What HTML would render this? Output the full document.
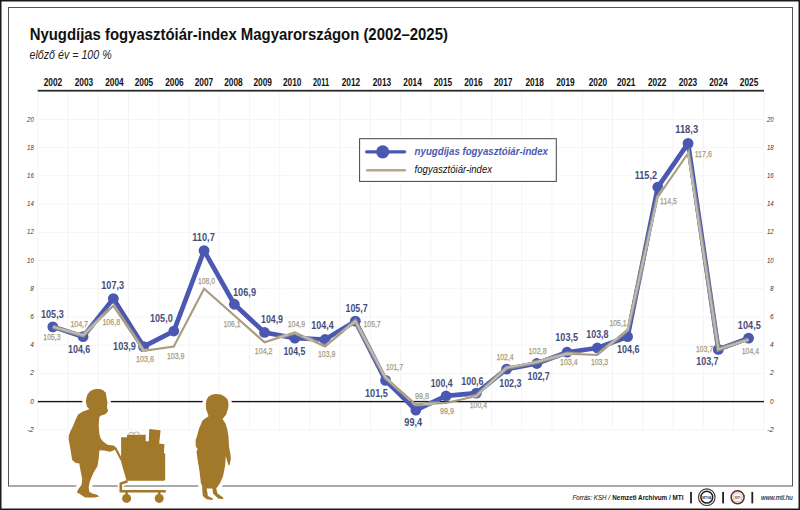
<!DOCTYPE html><html><head><meta charset="utf-8"><style>html,body{margin:0;padding:0;background:#fff}svg{display:block}text{font-family:"Liberation Sans",sans-serif}</style></head><body>
<svg width="800" height="510" viewBox="0 0 800 510">
<rect x="0" y="0" width="800" height="510" fill="#fff"/>
<rect x="0.75" y="0.75" width="798.5" height="508.5" fill="none" stroke="#1a1a1a" stroke-width="1.5"/>
<rect x="8.5" y="7.5" width="784" height="478.5" fill="none" stroke="#555" stroke-width="1"/>
<text x="29.7" y="39.6" font-size="16.8" font-weight="bold" fill="#111" textLength="418.2" lengthAdjust="spacingAndGlyphs">Nyugdíjas fogyasztóiár-index Magyarországon (2002–2025)</text>
<text x="29.5" y="59.3" font-size="12.3" font-style="italic" fill="#222" textLength="82.2" lengthAdjust="spacingAndGlyphs">előző év = 100 %</text>
<path d="M37.70 91.5V430 M67.95 91.5V430 M98.20 91.5V430 M128.45 91.5V430 M158.70 91.5V430 M188.95 91.5V430 M219.20 91.5V430 M249.45 91.5V430 M279.70 91.5V430 M309.95 91.5V430 M340.20 91.5V430 M370.45 91.5V430 M400.70 91.5V430 M430.95 91.5V430 M461.20 91.5V430 M491.45 91.5V430 M521.70 91.5V430 M551.95 91.5V430 M582.20 91.5V430 M612.45 91.5V430 M642.70 91.5V430 M672.95 91.5V430 M703.20 91.5V430 M733.45 91.5V430 M763.70 91.5V430 M37.70 429.82H763.70 M37.70 373.38H763.70 M37.70 345.16H763.70 M37.70 316.94H763.70 M37.70 288.72H763.70 M37.70 260.50H763.70 M37.70 232.28H763.70 M37.70 204.06H763.70 M37.70 175.84H763.70 M37.70 147.62H763.70 M37.70 119.40H763.70" stroke="#f4f4f4" stroke-width="1" fill="none"/>
<rect x="37.7" y="89.8" width="726.3" height="1.8" fill="#2a2a2a"/>
<text x="52.90" y="85.9" font-size="10" font-weight="bold" fill="#111" text-anchor="middle" textLength="18.5" lengthAdjust="spacingAndGlyphs">2002</text>
<text x="83.90" y="85.9" font-size="10" font-weight="bold" fill="#111" text-anchor="middle" textLength="18.5" lengthAdjust="spacingAndGlyphs">2003</text>
<text x="114.50" y="85.9" font-size="10" font-weight="bold" fill="#111" text-anchor="middle" textLength="18.5" lengthAdjust="spacingAndGlyphs">2004</text>
<text x="143.90" y="85.9" font-size="10" font-weight="bold" fill="#111" text-anchor="middle" textLength="18.5" lengthAdjust="spacingAndGlyphs">2005</text>
<text x="174.50" y="85.9" font-size="10" font-weight="bold" fill="#111" text-anchor="middle" textLength="18.5" lengthAdjust="spacingAndGlyphs">2006</text>
<text x="204.00" y="85.9" font-size="10" font-weight="bold" fill="#111" text-anchor="middle" textLength="18.5" lengthAdjust="spacingAndGlyphs">2007</text>
<text x="233.50" y="85.9" font-size="10" font-weight="bold" fill="#111" text-anchor="middle" textLength="18.5" lengthAdjust="spacingAndGlyphs">2008</text>
<text x="262.75" y="85.9" font-size="10" font-weight="bold" fill="#111" text-anchor="middle" textLength="18.5" lengthAdjust="spacingAndGlyphs">2009</text>
<text x="292.25" y="85.9" font-size="10" font-weight="bold" fill="#111" text-anchor="middle" textLength="18.5" lengthAdjust="spacingAndGlyphs">2010</text>
<text x="321.00" y="85.9" font-size="10" font-weight="bold" fill="#111" text-anchor="middle" textLength="16" lengthAdjust="spacingAndGlyphs">2011</text>
<text x="351.00" y="85.9" font-size="10" font-weight="bold" fill="#111" text-anchor="middle" textLength="18.5" lengthAdjust="spacingAndGlyphs">2012</text>
<text x="382.00" y="85.9" font-size="10" font-weight="bold" fill="#111" text-anchor="middle" textLength="18.5" lengthAdjust="spacingAndGlyphs">2013</text>
<text x="412.60" y="85.9" font-size="10" font-weight="bold" fill="#111" text-anchor="middle" textLength="18.5" lengthAdjust="spacingAndGlyphs">2014</text>
<text x="442.90" y="85.9" font-size="10" font-weight="bold" fill="#111" text-anchor="middle" textLength="18.5" lengthAdjust="spacingAndGlyphs">2015</text>
<text x="473.40" y="85.9" font-size="10" font-weight="bold" fill="#111" text-anchor="middle" textLength="18.5" lengthAdjust="spacingAndGlyphs">2016</text>
<text x="503.25" y="85.9" font-size="10" font-weight="bold" fill="#111" text-anchor="middle" textLength="18.5" lengthAdjust="spacingAndGlyphs">2017</text>
<text x="534.75" y="85.9" font-size="10" font-weight="bold" fill="#111" text-anchor="middle" textLength="18.5" lengthAdjust="spacingAndGlyphs">2018</text>
<text x="565.40" y="85.9" font-size="10" font-weight="bold" fill="#111" text-anchor="middle" textLength="18.5" lengthAdjust="spacingAndGlyphs">2019</text>
<text x="597.90" y="85.9" font-size="10" font-weight="bold" fill="#111" text-anchor="middle" textLength="18.5" lengthAdjust="spacingAndGlyphs">2020</text>
<text x="626.25" y="85.9" font-size="10" font-weight="bold" fill="#111" text-anchor="middle" textLength="18.5" lengthAdjust="spacingAndGlyphs">2021</text>
<text x="657.25" y="85.9" font-size="10" font-weight="bold" fill="#111" text-anchor="middle" textLength="18.5" lengthAdjust="spacingAndGlyphs">2022</text>
<text x="687.90" y="85.9" font-size="10" font-weight="bold" fill="#111" text-anchor="middle" textLength="18.5" lengthAdjust="spacingAndGlyphs">2023</text>
<text x="718.50" y="85.9" font-size="10" font-weight="bold" fill="#111" text-anchor="middle" textLength="18.5" lengthAdjust="spacingAndGlyphs">2024</text>
<text x="749.10" y="85.9" font-size="10" font-weight="bold" fill="#111" text-anchor="middle" textLength="18.5" lengthAdjust="spacingAndGlyphs">2025</text>
<text x="33.8" y="431.92" font-size="7.1" font-style="italic" fill="#333" text-anchor="end" textLength="6.7" lengthAdjust="spacingAndGlyphs">-2</text>
<text x="773.6" y="431.92" font-size="7.1" font-style="italic" fill="#333" text-anchor="end" textLength="6.7" lengthAdjust="spacingAndGlyphs">-2</text>
<text x="33.8" y="403.70" font-size="7.1" font-style="italic" fill="#333" text-anchor="end" textLength="3.6" lengthAdjust="spacingAndGlyphs">0</text>
<text x="773.6" y="403.70" font-size="7.1" font-style="italic" fill="#333" text-anchor="end" textLength="3.6" lengthAdjust="spacingAndGlyphs">0</text>
<text x="33.8" y="375.48" font-size="7.1" font-style="italic" fill="#333" text-anchor="end" textLength="3.6" lengthAdjust="spacingAndGlyphs">2</text>
<text x="773.6" y="375.48" font-size="7.1" font-style="italic" fill="#333" text-anchor="end" textLength="3.6" lengthAdjust="spacingAndGlyphs">2</text>
<text x="33.8" y="347.26" font-size="7.1" font-style="italic" fill="#333" text-anchor="end" textLength="3.6" lengthAdjust="spacingAndGlyphs">4</text>
<text x="773.6" y="347.26" font-size="7.1" font-style="italic" fill="#333" text-anchor="end" textLength="3.6" lengthAdjust="spacingAndGlyphs">4</text>
<text x="33.8" y="319.04" font-size="7.1" font-style="italic" fill="#333" text-anchor="end" textLength="3.6" lengthAdjust="spacingAndGlyphs">6</text>
<text x="773.6" y="319.04" font-size="7.1" font-style="italic" fill="#333" text-anchor="end" textLength="3.6" lengthAdjust="spacingAndGlyphs">6</text>
<text x="33.8" y="290.82" font-size="7.1" font-style="italic" fill="#333" text-anchor="end" textLength="3.6" lengthAdjust="spacingAndGlyphs">8</text>
<text x="773.6" y="290.82" font-size="7.1" font-style="italic" fill="#333" text-anchor="end" textLength="3.6" lengthAdjust="spacingAndGlyphs">8</text>
<text x="33.8" y="262.60" font-size="7.1" font-style="italic" fill="#333" text-anchor="end" textLength="6.7" lengthAdjust="spacingAndGlyphs">10</text>
<text x="773.6" y="262.60" font-size="7.1" font-style="italic" fill="#333" text-anchor="end" textLength="6.7" lengthAdjust="spacingAndGlyphs">10</text>
<text x="33.8" y="234.38" font-size="7.1" font-style="italic" fill="#333" text-anchor="end" textLength="6.7" lengthAdjust="spacingAndGlyphs">12</text>
<text x="773.6" y="234.38" font-size="7.1" font-style="italic" fill="#333" text-anchor="end" textLength="6.7" lengthAdjust="spacingAndGlyphs">12</text>
<text x="33.8" y="206.16" font-size="7.1" font-style="italic" fill="#333" text-anchor="end" textLength="6.7" lengthAdjust="spacingAndGlyphs">14</text>
<text x="773.6" y="206.16" font-size="7.1" font-style="italic" fill="#333" text-anchor="end" textLength="6.7" lengthAdjust="spacingAndGlyphs">14</text>
<text x="33.8" y="177.94" font-size="7.1" font-style="italic" fill="#333" text-anchor="end" textLength="6.7" lengthAdjust="spacingAndGlyphs">16</text>
<text x="773.6" y="177.94" font-size="7.1" font-style="italic" fill="#333" text-anchor="end" textLength="6.7" lengthAdjust="spacingAndGlyphs">16</text>
<text x="33.8" y="149.72" font-size="7.1" font-style="italic" fill="#333" text-anchor="end" textLength="6.7" lengthAdjust="spacingAndGlyphs">18</text>
<text x="773.6" y="149.72" font-size="7.1" font-style="italic" fill="#333" text-anchor="end" textLength="6.7" lengthAdjust="spacingAndGlyphs">18</text>
<text x="33.8" y="121.50" font-size="7.1" font-style="italic" fill="#333" text-anchor="end" textLength="6.7" lengthAdjust="spacingAndGlyphs">20</text>
<text x="773.6" y="121.50" font-size="7.1" font-style="italic" fill="#333" text-anchor="end" textLength="6.7" lengthAdjust="spacingAndGlyphs">20</text>
<rect x="37.7" y="400.9" width="726.3" height="1.4" fill="#1a1a1a"/>
<rect x="359.6" y="138.7" width="196.7" height="42.7" fill="#fff" stroke="#444" stroke-width="1"/>
<path d="M366.6 151.8H404.6" stroke="#4b58b2" stroke-width="3.2" stroke-linecap="round"/>
<circle cx="382.7" cy="151.8" r="6.6" fill="#4b58b2"/>
<path d="M367.3 170.2H404.9" stroke="#b6a78a" stroke-width="2.5" stroke-linecap="round"/>
<text x="414.6" y="154.6" font-size="11" font-weight="bold" font-style="italic" fill="#4b58b2" textLength="133.4" lengthAdjust="spacingAndGlyphs">nyugdíjas fogyasztóiár-index</text>
<text x="414.6" y="172.8" font-size="11" font-style="italic" fill="#111" textLength="77.4" lengthAdjust="spacingAndGlyphs">fogyasztóiár-index</text>
<polyline points="52.83,326.82 83.08,336.69 113.33,298.60 143.57,346.57 173.82,331.05 204.07,250.62 234.32,304.24 264.57,332.46 294.82,338.11 325.07,339.52 355.32,321.17 385.57,380.44 415.82,410.07 446.07,395.96 476.32,393.13 506.57,369.15 536.83,363.50 567.08,352.22 597.33,347.98 627.58,336.69 657.83,187.13 688.08,143.39 718.33,349.39 748.58,338.11" fill="none" stroke="#4b58b2" stroke-width="4.7" stroke-linejoin="round"/>
<circle cx="52.83" cy="326.82" r="5.4" fill="#4b58b2"/>
<circle cx="83.08" cy="336.69" r="5.4" fill="#4b58b2"/>
<circle cx="113.33" cy="298.60" r="5.4" fill="#4b58b2"/>
<circle cx="143.57" cy="346.57" r="5.4" fill="#4b58b2"/>
<circle cx="173.82" cy="331.05" r="5.4" fill="#4b58b2"/>
<circle cx="204.07" cy="250.62" r="5.4" fill="#4b58b2"/>
<circle cx="234.32" cy="304.24" r="5.4" fill="#4b58b2"/>
<circle cx="264.57" cy="332.46" r="5.4" fill="#4b58b2"/>
<circle cx="294.82" cy="338.11" r="5.4" fill="#4b58b2"/>
<circle cx="325.07" cy="339.52" r="5.4" fill="#4b58b2"/>
<circle cx="355.32" cy="321.17" r="5.4" fill="#4b58b2"/>
<circle cx="385.57" cy="380.44" r="5.4" fill="#4b58b2"/>
<circle cx="415.82" cy="410.07" r="5.4" fill="#4b58b2"/>
<circle cx="446.07" cy="395.96" r="5.4" fill="#4b58b2"/>
<circle cx="476.32" cy="393.13" r="5.4" fill="#4b58b2"/>
<circle cx="506.57" cy="369.15" r="5.4" fill="#4b58b2"/>
<circle cx="536.83" cy="363.50" r="5.4" fill="#4b58b2"/>
<circle cx="567.08" cy="352.22" r="5.4" fill="#4b58b2"/>
<circle cx="597.33" cy="347.98" r="5.4" fill="#4b58b2"/>
<circle cx="627.58" cy="336.69" r="5.4" fill="#4b58b2"/>
<circle cx="657.83" cy="187.13" r="5.4" fill="#4b58b2"/>
<circle cx="688.08" cy="143.39" r="5.4" fill="#4b58b2"/>
<circle cx="718.33" cy="349.39" r="5.4" fill="#4b58b2"/>
<circle cx="748.58" cy="338.11" r="5.4" fill="#4b58b2"/>
<mask id="bm" maskUnits="userSpaceOnUse" x="0" y="0" width="800" height="510"><rect width="800" height="510" fill="#000"/><polyline points="52.83,326.82 83.08,336.69 113.33,298.60 143.57,346.57 173.82,331.05 204.07,250.62 234.32,304.24 264.57,332.46 294.82,338.11 325.07,339.52 355.32,321.17 385.57,380.44 415.82,410.07 446.07,395.96 476.32,393.13 506.57,369.15 536.83,363.50 567.08,352.22 597.33,347.98 627.58,336.69 657.83,187.13 688.08,143.39 718.33,349.39 748.58,338.11" fill="none" stroke="#fff" stroke-width="4.7" stroke-linejoin="round"/>
<circle cx="52.83" cy="326.82" r="5.4" fill="#fff"/>
<circle cx="83.08" cy="336.69" r="5.4" fill="#fff"/>
<circle cx="113.33" cy="298.60" r="5.4" fill="#fff"/>
<circle cx="143.57" cy="346.57" r="5.4" fill="#fff"/>
<circle cx="173.82" cy="331.05" r="5.4" fill="#fff"/>
<circle cx="204.07" cy="250.62" r="5.4" fill="#fff"/>
<circle cx="234.32" cy="304.24" r="5.4" fill="#fff"/>
<circle cx="264.57" cy="332.46" r="5.4" fill="#fff"/>
<circle cx="294.82" cy="338.11" r="5.4" fill="#fff"/>
<circle cx="325.07" cy="339.52" r="5.4" fill="#fff"/>
<circle cx="355.32" cy="321.17" r="5.4" fill="#fff"/>
<circle cx="385.57" cy="380.44" r="5.4" fill="#fff"/>
<circle cx="415.82" cy="410.07" r="5.4" fill="#fff"/>
<circle cx="446.07" cy="395.96" r="5.4" fill="#fff"/>
<circle cx="476.32" cy="393.13" r="5.4" fill="#fff"/>
<circle cx="506.57" cy="369.15" r="5.4" fill="#fff"/>
<circle cx="536.83" cy="363.50" r="5.4" fill="#fff"/>
<circle cx="567.08" cy="352.22" r="5.4" fill="#fff"/>
<circle cx="597.33" cy="347.98" r="5.4" fill="#fff"/>
<circle cx="627.58" cy="336.69" r="5.4" fill="#fff"/>
<circle cx="657.83" cy="187.13" r="5.4" fill="#fff"/>
<circle cx="688.08" cy="143.39" r="5.4" fill="#fff"/>
<circle cx="718.33" cy="349.39" r="5.4" fill="#fff"/>
<circle cx="748.58" cy="338.11" r="5.4" fill="#fff"/>
</mask>
<polyline points="52.83,326.82 83.08,335.28 113.33,305.65 143.57,350.80 173.82,346.57 204.07,288.72 234.32,315.53 264.57,342.34 294.82,332.46 325.07,346.57 355.32,321.17 385.57,377.61 415.82,404.42 446.07,403.01 476.32,395.96 506.57,367.74 536.83,362.09 567.08,353.63 597.33,355.04 627.58,329.64 657.83,197.01 688.08,153.26 718.33,349.39 748.58,339.52" fill="none" stroke="#a99b7f" stroke-width="2.1" stroke-linejoin="miter"/>
<g mask="url(#bm)"><polyline points="52.83,326.82 83.08,335.28 113.33,305.65 143.57,350.80 173.82,346.57 204.07,288.72 234.32,315.53 264.57,342.34 294.82,332.46 325.07,346.57 355.32,321.17 385.57,377.61 415.82,404.42 446.07,403.01 476.32,395.96 506.57,367.74 536.83,362.09 567.08,353.63 597.33,355.04 627.58,329.64 657.83,197.01 688.08,153.26 718.33,349.39 748.58,339.52" fill="none" stroke="#8f8e88" stroke-width="4.3" stroke-linejoin="miter"/>
<polyline points="52.83,326.82 83.08,335.28 113.33,305.65 143.57,350.80 173.82,346.57 204.07,288.72 234.32,315.53 264.57,342.34 294.82,332.46 325.07,346.57 355.32,321.17 385.57,377.61 415.82,404.42 446.07,403.01 476.32,395.96 506.57,367.74 536.83,362.09 567.08,353.63 597.33,355.04 627.58,329.64 657.83,197.01 688.08,153.26 718.33,349.39 748.58,339.52" fill="none" stroke="#bdbbb2" stroke-width="2.1" stroke-linejoin="miter"/></g>
<text x="41.00" y="318.10" font-size="11.7" font-weight="bold" fill="#464d7a" textLength="22.70" lengthAdjust="spacingAndGlyphs">105,3</text>
<text x="43.30" y="340.30" font-size="8.4" fill="#a89e80" stroke="#a89e80" stroke-width="0.25" textLength="17.30" lengthAdjust="spacingAndGlyphs">105,3</text>
<text x="68.00" y="352.80" font-size="11.7" font-weight="bold" fill="#464d7a" textLength="22.30" lengthAdjust="spacingAndGlyphs">104,6</text>
<text x="70.40" y="326.70" font-size="8.4" fill="#a89e80" stroke="#a89e80" stroke-width="0.25" textLength="17.60" lengthAdjust="spacingAndGlyphs">104,7</text>
<text x="101.30" y="289.10" font-size="11.7" font-weight="bold" fill="#464d7a" textLength="22.70" lengthAdjust="spacingAndGlyphs">107,3</text>
<text x="102.40" y="325.10" font-size="8.4" fill="#a89e80" stroke="#a89e80" stroke-width="0.25" textLength="17.70" lengthAdjust="spacingAndGlyphs">106,8</text>
<text x="113.10" y="349.70" font-size="11.7" font-weight="bold" fill="#464d7a" textLength="22.80" lengthAdjust="spacingAndGlyphs">103,9</text>
<text x="135.90" y="361.80" font-size="8.4" fill="#a89e80" stroke="#a89e80" stroke-width="0.25" textLength="18.00" lengthAdjust="spacingAndGlyphs">103,6</text>
<text x="150.00" y="321.50" font-size="11.7" font-weight="bold" fill="#464d7a" textLength="22.70" lengthAdjust="spacingAndGlyphs">105,0</text>
<text x="166.90" y="358.80" font-size="8.4" fill="#a89e80" stroke="#a89e80" stroke-width="0.25" textLength="17.50" lengthAdjust="spacingAndGlyphs">103,9</text>
<text x="192.25" y="240.90" font-size="11.7" font-weight="bold" fill="#464d7a" textLength="22.50" lengthAdjust="spacingAndGlyphs">110,7</text>
<text x="198.00" y="283.70" font-size="8.4" fill="#a89e80" stroke="#a89e80" stroke-width="0.25" textLength="17.00" lengthAdjust="spacingAndGlyphs">108,0</text>
<text x="233.00" y="296.30" font-size="11.7" font-weight="bold" fill="#464d7a" textLength="23.00" lengthAdjust="spacingAndGlyphs">106,9</text>
<text x="223.40" y="326.90" font-size="8.4" fill="#a89e80" stroke="#a89e80" stroke-width="0.25" textLength="17.30" lengthAdjust="spacingAndGlyphs">106,1</text>
<text x="261.00" y="322.70" font-size="11.7" font-weight="bold" fill="#464d7a" textLength="22.00" lengthAdjust="spacingAndGlyphs">104,9</text>
<text x="254.80" y="353.60" font-size="8.4" fill="#a89e80" stroke="#a89e80" stroke-width="0.25" textLength="17.70" lengthAdjust="spacingAndGlyphs">104,2</text>
<text x="283.50" y="355.10" font-size="11.7" font-weight="bold" fill="#464d7a" textLength="21.90" lengthAdjust="spacingAndGlyphs">104,5</text>
<text x="287.70" y="327.30" font-size="8.4" fill="#a89e80" stroke="#a89e80" stroke-width="0.25" textLength="17.30" lengthAdjust="spacingAndGlyphs">104,9</text>
<text x="311.30" y="329.40" font-size="11.7" font-weight="bold" fill="#464d7a" textLength="22.40" lengthAdjust="spacingAndGlyphs">104,4</text>
<text x="318.00" y="357.20" font-size="8.4" fill="#a89e80" stroke="#a89e80" stroke-width="0.25" textLength="17.30" lengthAdjust="spacingAndGlyphs">103,9</text>
<text x="345.50" y="311.70" font-size="11.7" font-weight="bold" fill="#464d7a" textLength="22.20" lengthAdjust="spacingAndGlyphs">105,7</text>
<text x="363.50" y="327.40" font-size="8.4" fill="#a89e80" stroke="#a89e80" stroke-width="0.25" textLength="17.20" lengthAdjust="spacingAndGlyphs">105,7</text>
<text x="365.00" y="396.50" font-size="11.7" font-weight="bold" fill="#464d7a" textLength="22.90" lengthAdjust="spacingAndGlyphs">101,5</text>
<text x="385.90" y="370.20" font-size="8.4" fill="#a89e80" stroke="#a89e80" stroke-width="0.25" textLength="17.20" lengthAdjust="spacingAndGlyphs">101,7</text>
<text x="404.30" y="425.70" font-size="11.7" font-weight="bold" fill="#464d7a" textLength="17.80" lengthAdjust="spacingAndGlyphs">99,4</text>
<text x="414.90" y="399.20" font-size="8.4" fill="#a89e80" stroke="#a89e80" stroke-width="0.25" textLength="14.10" lengthAdjust="spacingAndGlyphs">99,8</text>
<text x="430.80" y="387.30" font-size="11.7" font-weight="bold" fill="#464d7a" textLength="21.70" lengthAdjust="spacingAndGlyphs">100,4</text>
<text x="440.00" y="414.10" font-size="8.4" fill="#a89e80" stroke="#a89e80" stroke-width="0.25" textLength="14.00" lengthAdjust="spacingAndGlyphs">99,9</text>
<text x="461.20" y="384.90" font-size="11.7" font-weight="bold" fill="#464d7a" textLength="22.40" lengthAdjust="spacingAndGlyphs">100,6</text>
<text x="469.80" y="408.00" font-size="8.4" fill="#a89e80" stroke="#a89e80" stroke-width="0.25" textLength="17.20" lengthAdjust="spacingAndGlyphs">100,4</text>
<text x="499.20" y="386.50" font-size="11.7" font-weight="bold" fill="#464d7a" textLength="22.30" lengthAdjust="spacingAndGlyphs">102,3</text>
<text x="496.40" y="360.20" font-size="8.4" fill="#a89e80" stroke="#a89e80" stroke-width="0.25" textLength="17.30" lengthAdjust="spacingAndGlyphs">102,4</text>
<text x="527.50" y="380.00" font-size="11.7" font-weight="bold" fill="#464d7a" textLength="22.30" lengthAdjust="spacingAndGlyphs">102,7</text>
<text x="528.60" y="353.70" font-size="8.4" fill="#a89e80" stroke="#a89e80" stroke-width="0.25" textLength="18.10" lengthAdjust="spacingAndGlyphs">102,8</text>
<text x="555.30" y="341.10" font-size="11.7" font-weight="bold" fill="#464d7a" textLength="22.70" lengthAdjust="spacingAndGlyphs">103,5</text>
<text x="560.00" y="365.20" font-size="8.4" fill="#a89e80" stroke="#a89e80" stroke-width="0.25" textLength="17.70" lengthAdjust="spacingAndGlyphs">103,4</text>
<text x="586.20" y="338.00" font-size="11.7" font-weight="bold" fill="#464d7a" textLength="22.40" lengthAdjust="spacingAndGlyphs">103,8</text>
<text x="590.90" y="365.20" font-size="8.4" fill="#a89e80" stroke="#a89e80" stroke-width="0.25" textLength="17.30" lengthAdjust="spacingAndGlyphs">103,3</text>
<text x="616.90" y="353.20" font-size="11.7" font-weight="bold" fill="#464d7a" textLength="22.60" lengthAdjust="spacingAndGlyphs">104,6</text>
<text x="609.40" y="326.00" font-size="8.4" fill="#a89e80" stroke="#a89e80" stroke-width="0.25" textLength="17.30" lengthAdjust="spacingAndGlyphs">105,1</text>
<text x="634.70" y="178.50" font-size="11.7" font-weight="bold" fill="#464d7a" textLength="22.30" lengthAdjust="spacingAndGlyphs">115,2</text>
<text x="660.10" y="204.00" font-size="8.4" fill="#a89e80" stroke="#a89e80" stroke-width="0.25" textLength="16.90" lengthAdjust="spacingAndGlyphs">114,5</text>
<text x="675.20" y="133.30" font-size="11.7" font-weight="bold" fill="#464d7a" textLength="23.00" lengthAdjust="spacingAndGlyphs">118,3</text>
<text x="694.70" y="157.20" font-size="8.4" fill="#a89e80" stroke="#a89e80" stroke-width="0.25" textLength="17.20" lengthAdjust="spacingAndGlyphs">117,6</text>
<text x="696.30" y="365.00" font-size="11.7" font-weight="bold" fill="#464d7a" textLength="22.20" lengthAdjust="spacingAndGlyphs">103,7</text>
<text x="696.00" y="351.50" font-size="8.4" fill="#a89e80" stroke="#a89e80" stroke-width="0.25" textLength="17.20" lengthAdjust="spacingAndGlyphs">103,7</text>
<text x="737.80" y="328.50" font-size="11.7" font-weight="bold" fill="#464d7a" textLength="23.00" lengthAdjust="spacingAndGlyphs">104,5</text>
<text x="741.70" y="353.60" font-size="8.4" fill="#a89e80" stroke="#a89e80" stroke-width="0.25" textLength="17.30" lengthAdjust="spacingAndGlyphs">104,4</text>
<text x="572.6" y="500" font-size="7.6" fill="#333" stroke="#333" stroke-width="0.15" font-style="italic" textLength="37.4" lengthAdjust="spacingAndGlyphs">Forrás: KSH /</text>
<text x="612.3" y="500" font-size="7.6" fill="#111" font-weight="bold" textLength="71.1" lengthAdjust="spacingAndGlyphs">Nemzeti Archivum / MTI</text>
<rect x="690.1" y="491.9" width="1.8" height="11.5" fill="#222"/>
<rect x="722.2" y="491.9" width="1.8" height="11.5" fill="#222"/>
<rect x="751.4" y="491.9" width="1.8" height="11.5" fill="#222"/>
<circle cx="706.8" cy="497.2" r="8.3" fill="#fff" stroke="#333" stroke-width="1.1"/>
<circle cx="706.8" cy="497.2" r="5.9" fill="#fff" stroke="#222" stroke-width="1.5"/>
<text x="706.8" y="498.5" font-size="3.3" font-weight="bold" fill="#333" text-anchor="middle">MTVA</text>
<circle cx="737.6" cy="497.3" r="6.5" fill="#fff" stroke="#5e2f28" stroke-width="1.5"/>
<circle cx="737.6" cy="497.3" r="4.5" fill="#fff" stroke="#d0a8a0" stroke-width="0.9"/>
<text x="737.6" y="498.6" font-size="3.4" font-weight="bold" fill="#7a4a40" text-anchor="middle">MTI</text>
<text x="760.9" y="499.8" font-size="7.5" font-style="italic" fill="#333" stroke="#333" stroke-width="0.2" textLength="31.9" lengthAdjust="spacingAndGlyphs">www.mti.hu</text>
<g stroke="#fff" stroke-width="3.5" stroke-linejoin="round" fill="#fff">
<path d="M95.8 388.9 L99.5 389.0 L102.8 389.9 L105.8 392.8 L106.6 398.1 L107.5 402.8 L106.9 406.9 L108.1 411.0 L106.5 413.3 L104.6 414.6 L101.6 415.2 L99.3 417.0 L98.7 425.2 L99.3 433.4 L100.5 438.1 L102.8 441.2 L107.5 444.7 L111.0 445.3 L113.5 445.4 L115.3 446.8 L115.8 448.2 L114.6 449.8 L113.4 450.6 L109.9 451.8 L104.0 450.6 L99.6 450.2 L99.3 451.8 L98.7 458.8 L97.5 465.9 L93.4 472.9 L89.9 481.2 L88.7 487.1 L89.3 491.8 L92.2 493.5 L96.5 494.6 L99.3 496.5 L94.6 497.6 L85.2 497.6 L82.8 495.9 L79.9 494.1 L76.9 492.4 L78.1 489.4 L81.6 484.7 L82.2 478.8 L80.5 470.6 L79.3 463.5 L75.8 462.9 L72.2 460.0 L70.5 449.4 L68.7 440.0 L68.7 435.8 L70.5 431.1 L73.4 425.2 L75.8 419.3 L78.1 414.6 L82.8 411.6 L89.3 409.3 L86.9 406.4 L85.8 401.6 L86.5 397.5 L87.5 394.6 L89.8 391.6 L92.2 389.9ZM215.6 394.0 L221.0 394.6 L225.0 396.8 L227.6 399.6 L228.5 403.5 L228.2 408.0 L226.2 414.4 L223.8 417.4 L222.6 419.1 L225.6 423.8 L227.4 429.7 L228.5 436.8 L229.0 446.4 L230.2 452.7 L230.9 459.1 L230.2 461.7 L229.6 465.5 L228.3 464.8 L227.0 460.4 L225.8 456.0 L225.1 465.5 L223.2 475.7 L220.0 483.3 L216.2 488.4 L217.5 493.5 L223.2 497.6 L223.2 499.2 L218.1 498.6 L213.0 493.5 L212.4 488.4 L206.7 488.4 L207.9 496.0 L213.0 498.4 L212.4 499.9 L206.7 499.2 L202.8 496.0 L202.2 488.4 L202.2 485.9 L200.9 483.3 L199.6 471.8 L197.7 460.4 L196.5 451.5 L197.7 448.9 L195.8 446.4 L195.6 440.0 L196.8 436.8 L199.1 428.5 L202.6 420.3 L208.5 416.2 L207.6 413.2 L206.0 409.0 L205.8 404.0 L206.5 400.0 L208.3 396.8 L211.5 394.8Z" stroke-width="7"/>
<path d="M121.1 437.2 L127.0 437.2 L127.0 434.8 L145.7 434.8 L145.7 441.2 L148.8 441.2 L149.2 429.0 L160.6 430.2 L159.2 443.5 L164.5 444.3 L163.9 453.0 L165.2 453.7 L165.2 479.5 L164.2 480.7 L126.6 480.7 L121.1 462.0Z"/>
<path d="M115.2 447.7L121 459" stroke-width="5.5"/>
<path d="M126.6 481.6L120.8 483.6V491.3H165.8" fill="none" stroke-width="6"/>
<circle cx="126.6" cy="498.4" r="6"/><circle cx="159.2" cy="498.4" r="6"/>
</g>
<g fill="#a2792a">
<path d="M95.8 388.9 L99.5 389.0 L102.8 389.9 L105.8 392.8 L106.6 398.1 L107.5 402.8 L106.9 406.9 L108.1 411.0 L106.5 413.3 L104.6 414.6 L101.6 415.2 L99.3 417.0 L98.7 425.2 L99.3 433.4 L100.5 438.1 L102.8 441.2 L107.5 444.7 L111.0 445.3 L113.5 445.4 L115.3 446.8 L115.8 448.2 L114.6 449.8 L113.4 450.6 L109.9 451.8 L104.0 450.6 L99.6 450.2 L99.3 451.8 L98.7 458.8 L97.5 465.9 L93.4 472.9 L89.9 481.2 L88.7 487.1 L89.3 491.8 L92.2 493.5 L96.5 494.6 L99.3 496.5 L94.6 497.6 L85.2 497.6 L82.8 495.9 L79.9 494.1 L76.9 492.4 L78.1 489.4 L81.6 484.7 L82.2 478.8 L80.5 470.6 L79.3 463.5 L75.8 462.9 L72.2 460.0 L70.5 449.4 L68.7 440.0 L68.7 435.8 L70.5 431.1 L73.4 425.2 L75.8 419.3 L78.1 414.6 L82.8 411.6 L89.3 409.3 L86.9 406.4 L85.8 401.6 L86.5 397.5 L87.5 394.6 L89.8 391.6 L92.2 389.9Z M215.6 394.0 L221.0 394.6 L225.0 396.8 L227.6 399.6 L228.5 403.5 L228.2 408.0 L226.2 414.4 L223.8 417.4 L222.6 419.1 L225.6 423.8 L227.4 429.7 L228.5 436.8 L229.0 446.4 L230.2 452.7 L230.9 459.1 L230.2 461.7 L229.6 465.5 L228.3 464.8 L227.0 460.4 L225.8 456.0 L225.1 465.5 L223.2 475.7 L220.0 483.3 L216.2 488.4 L217.5 493.5 L223.2 497.6 L223.2 499.2 L218.1 498.6 L213.0 493.5 L212.4 488.4 L206.7 488.4 L207.9 496.0 L213.0 498.4 L212.4 499.9 L206.7 499.2 L202.8 496.0 L202.2 488.4 L202.2 485.9 L200.9 483.3 L199.6 471.8 L197.7 460.4 L196.5 451.5 L197.7 448.9 L195.8 446.4 L195.6 440.0 L196.8 436.8 L199.1 428.5 L202.6 420.3 L208.5 416.2 L207.6 413.2 L206.0 409.0 L205.8 404.0 L206.5 400.0 L208.3 396.8 L211.5 394.8Z M121.1 437.2 L127.0 437.2 L127.0 434.8 L145.7 434.8 L145.7 441.2 L148.8 441.2 L149.2 429.0 L160.6 430.2 L159.2 443.5 L164.5 444.3 L163.9 453.0 L165.2 453.7 L165.2 479.5 L164.2 480.7 L126.6 480.7 L121.1 462.0Z"/>
<path d="M115.2 447.7L121.5 460" stroke="#a2792a" stroke-width="2.2" fill="none"/>
<path d="M127.5 481.2L120.8 483.6V491.3H165.8" fill="none" stroke="#a2792a" stroke-width="2.6"/>
<circle cx="126.6" cy="498.4" r="4.5"/><circle cx="159.2" cy="498.4" r="4.5"/>
<path d="M126.6 491V496M159.2 491V496" stroke="#a2792a" stroke-width="2.5"/>
</g>
<path d="M128.8 434.8C128.8 431.6 134 431.6 134 434.8M134 434.8C134 431.0 139.3 431.0 139.3 434.8" fill="none" stroke="#c9bea6" stroke-width="1.1"/>
</svg></body></html>
